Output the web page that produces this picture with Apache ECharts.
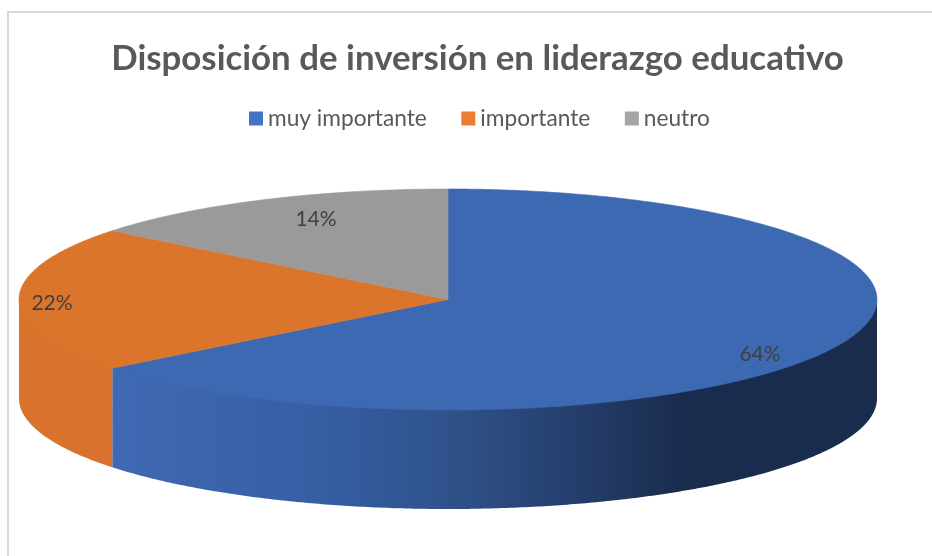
<!DOCTYPE html>
<html>
<head>
<meta charset="utf-8">
<style>html,body{margin:0;padding:0;background:#fff}#c{width:932px;height:556px}</style>
<script src="https://cdn.jsdelivr.net/npm/echarts@6/dist/echarts.min.js"></script>
</head>
<body>
<div id="c"></div>
<script>
const categories = ['muy importante', 'importante', 'neutro'];
const values = [64, 22, 14];
const titleText = 'Disposición de inversión en liderazgo educativo';

const FONT = 'Lato, Carlito, "Open Sans", sans-serif';
const legendColors = ['#4472C4', '#ED7D31', '#A5A5A5'];
const topColors = ['#3D69B3', '#DC752C', '#9A9A9A'];
const PIE = { cx: 448, cy: 299.5, rx: 429, ry: 110.5, depth: 99, warp: 1.12 };
const labelOffsets = [[312, 54.5], [-396, 3.5], [-132, -80.5]];

const total = values.reduce((a, b) => a + b, 0);
function startAngle(i) {
  let s = 0;
  for (let k = 0; k < i; k++) s += values[k];
  return s / total * 360;
}
function pt(deg, dy) {
  const t0 = deg * Math.PI / 180;
  // slight perspective correction of the tilted disc
  const t = t0 + PIE.warp * Math.PI / 180 * Math.sin(2 * t0);
  return [PIE.cx + PIE.rx * Math.sin(t), PIE.cy - PIE.ry * Math.cos(t) + (dy || 0)];
}
function arc(a, b, dy) {
  const pts = [];
  const n = Math.max(2, Math.ceil((b - a) * 2));
  for (let k = 0; k <= n; k++) pts.push(pt(a + (b - a) * k / n, dy));
  return pts;
}
function sideFill(i) {
  if (i === 0) {
    return new echarts.graphic.LinearGradient(112, 0, 877, 0, [
      { offset: 0, color: '#3F69B3' },
      { offset: 0.276, color: '#355EA3' },
      { offset: 0.45, color: '#2F5189' },
      { offset: 0.6, color: '#253F6D' },
      { offset: 0.745, color: '#1A2C4E' },
      { offset: 1, color: '#1A2C4E' }
    ], true);
  }
  return '#D9722C';
}
function makeRender(i) {
  return function () {
    const a = startAngle(i), b = a + values[i] / total * 360;
    const children = [];
    const sa = Math.max(a, 90), sb = Math.min(b, 270);
    if (sb > sa) {
      const upper = arc(sa, sb, -1.5);
      const lower = arc(sa, sb, PIE.depth).reverse();
      children.push({
        type: 'polygon',
        shape: { points: upper.concat(lower) },
        style: { fill: sideFill(i) }
      });
    }
    children.push({
      type: 'polygon',
      shape: { points: [[PIE.cx, PIE.cy]].concat(arc(a, b, 0)) },
      style: { fill: topColors[i], stroke: topColors[i], lineWidth: 0.6 }
    });
    children.push({
      type: 'text',
      z2: 10,
      style: {
        x: PIE.cx + labelOffsets[i][0],
        y: PIE.cy + labelOffsets[i][1],
        text: values[i] + '%',
        fill: '#404040',
        font: '21px ' + FONT,
        align: 'center',
        verticalAlign: 'middle'
      }
    });
    return { type: 'group', children };
  };
}
const chart = echarts.init(document.getElementById('c'), null, { renderer: 'canvas' });
chart.setOption({
  animation: false,
  backgroundColor: '#fff',
  title: {
    text: titleText,
    left: 472.5, top: 36,
    textAlign: 'center',
    textStyle: { fontFamily: FONT, fontSize: 34.85, fontWeight: 'bold', color: '#595959' }
  },
  legend: {
    data: categories,
    top: 102, left: 244,
    icon: 'rect',
    itemWidth: 14, itemHeight: 14, itemGap: 34.6,
    textStyle: { fontFamily: FONT, fontSize: 22.7, color: '#595959' },
    selectedMode: false
  },
  graphic: [
    { type: 'polyline', shape: { points: [[8, 556], [8, 12], [932, 12]] }, style: { stroke: '#D9D9D9', lineWidth: 2, fill: null }, silent: true }
  ],
  series: categories.map((name, i) => ({
    type: 'custom',
    name,
    coordinateSystem: 'none',
    itemStyle: { color: legendColors[i] },
    renderItem: makeRender(i),
    silent: true,
    data: [values[i]]
  }))
});
</script>
</body>
</html>
